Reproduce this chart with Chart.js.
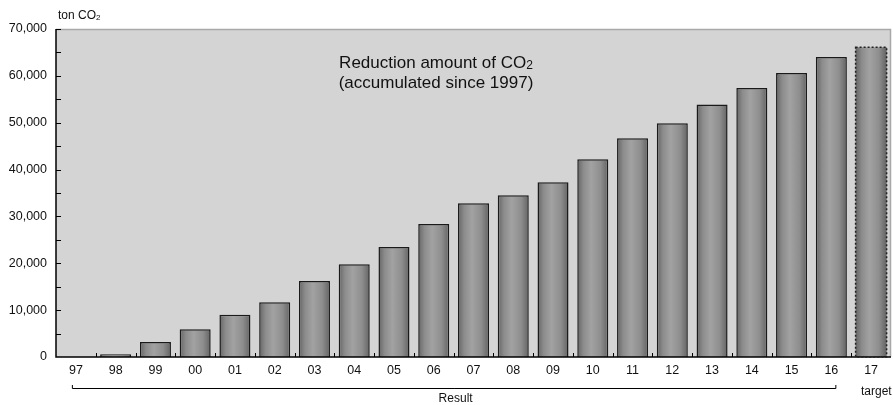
<!DOCTYPE html>
<html>
<head>
<meta charset="utf-8">
<script src="https://cdn.jsdelivr.net/npm/chart.js@4"></script>
<style>
    html, body { margin: 0; padding: 0; background: #ffffff; }
    #ChartWrapper { width: 893px; height: 405px; position: relative; }
</style>
</head>
<body>
<div id="ChartWrapper"><canvas id="Chart"></canvas></div>
<script>
// годы (подписи оси X)
var years = ['97', '98', '99', '00', '01', '02', '03', '04', '05', '06', '07', '08', '09', '10', '11', '12', '13', '14', '15', '16', '17'];
// накопленное сокращение, т CO2
var reduction = [0, 600, 3200, 5900, 9000, 11700, 16200, 19800, 23500, 28400, 32800, 34500, 37300, 42200, 46700, 49900, 53900, 57400, 60600, 64000, 66100];
var yTicks = [0, 10000, 20000, 30000, 40000, 50000, 60000, 70000];
var targetIndex = 20;

var FONT = '"Liberation Sans", Arial, sans-serif';
var BAR_PCT = 0.78;

/**
 * градиент для столбика по его положению на шкале*/
function barGradient(context) {
    var chart = context.chart;
    if (!chart.chartArea) return '#999';
    var x = chart.scales.x.getPixelForValue(context.dataIndex);
    var w = chart.scales.x.width / years.length * BAR_PCT;
    var g = chart.ctx.createLinearGradient(x - w / 2, 0, x + w / 2, 0);
    g.addColorStop(0, '#656565');
    g.addColorStop(0.2, '#8c8c8c');
    g.addColorStop(0.45, '#a2a2a2');
    g.addColorStop(0.75, '#8e8e8e');
    g.addColorStop(1, '#636363');
    return g;
}

// фон, рамка, засечки и подписи
var decorPlugin = {
    id: 'decor',
    beforeDraw: function (chart) {
        var ctx = chart.ctx, a = chart.chartArea;
        ctx.save();
        ctx.fillStyle = '#d4d4d4';
        ctx.fillRect(a.left, a.top, a.right - a.left, a.bottom - a.top);
        ctx.restore();
    },
    afterDatasetsDraw: function (chart) {
        var ctx = chart.ctx, a = chart.chartArea;
        var xs = chart.scales.x, ys = chart.scales.y;
        ctx.save();
        // рамка сверху и справа
        ctx.strokeStyle = '#a8a8a8';
        ctx.lineWidth = 1.5;
        ctx.beginPath();
        ctx.moveTo(a.left, a.top + 0.5);
        ctx.lineTo(a.right - 0.5, a.top + 0.5);
        ctx.lineTo(a.right - 0.5, a.bottom);
        ctx.stroke();
        // оси
        ctx.strokeStyle = '#000';
        ctx.lineWidth = 1.5;
        ctx.beginPath();
        ctx.moveTo(a.left, a.top);
        ctx.lineTo(a.left, a.bottom);
        ctx.lineTo(a.right, a.bottom);
        ctx.stroke();
        // засечки оси Y (внутрь), шаг 5000
        ctx.lineWidth = 1;
        ctx.beginPath();
        for (var v = 5000; v <= 70000; v += 5000) {
            var py = Math.round(ys.getPixelForValue(v)) + 0.5;
            ctx.moveTo(a.left, py);
            ctx.lineTo(a.left + 5, py);
        }
        ctx.stroke();
        // засечки оси X между категориями
        var step = xs.width / years.length;
        ctx.beginPath();
        for (var i = 1; i < years.length; i++) {
            var px = Math.round(a.left + step * i) + 0.5;
            ctx.moveTo(px, a.bottom);
            ctx.lineTo(px, a.bottom - 4);
        }
        ctx.stroke();

        // пунктир для целевого значения
        var bar = chart.getDatasetMeta(0).data[targetIndex];
        if (bar) {
            ctx.setLineDash([2, 2]);
            ctx.strokeStyle = '#222';
            ctx.lineWidth = 1.5;
            ctx.strokeRect(bar.x - bar.width / 2, bar.y, bar.width, bar.base - bar.y);
            ctx.setLineDash([]);
        }

        // скобка "Result"
        var x0 = xs.getPixelForValue(0) - 4, x1 = xs.getPixelForValue(19) + 4;
        ctx.strokeStyle = '#000';
        ctx.lineWidth = 1;
        ctx.beginPath();
        ctx.moveTo(x0 + 0.5, 385);
        ctx.lineTo(x0 + 0.5, 388.5);
        ctx.lineTo(x1 + 0.5, 388.5);
        ctx.lineTo(x1 + 0.5, 385);
        ctx.stroke();

        ctx.fillStyle = '#111';
        ctx.textBaseline = 'middle';
        ctx.font = '12px ' + FONT;
        ctx.textAlign = 'center';
        ctx.fillText('Result', (x0 + x1) / 2 + 2, 399);
        ctx.textAlign = 'left';
        ctx.fillText('target', 861, 392);

        // единицы измерения
        drawCO2(ctx, 'ton CO', 58, 16, 12, 'left');

        // подпись внутри графика
        ctx.font = '17px ' + FONT;
        ctx.textAlign = 'left';
        var cx = 436;
        var t1 = 'Reduction amount of CO';
        var w1 = ctx.measureText(t1).width;
        ctx.font = '12px ' + FONT;
        var w2 = ctx.measureText('2').width;
        drawCO2(ctx, t1, cx - (w1 + w2) / 2, 63, 17, 'left');
        ctx.font = '17px ' + FONT;
        ctx.textAlign = 'center';
        ctx.fillText('(accumulated since 1997)', cx, 83);
        ctx.restore();
    }
};

/**
 * текст с подстрочной двойкой в CO2*/
function drawCO2(ctx, text, x, y, size, align) {
    ctx.font = size + 'px ' + FONT;
    ctx.textAlign = align;
    ctx.textBaseline = 'middle';
    ctx.fillText(text, x, y);
    var w = ctx.measureText(text).width;
    ctx.font = Math.round(size * 0.68) + 'px ' + FONT;
    ctx.fillText('2', x + w, y + size * 0.15);
}

var data = {
    labels: years,
    datasets: [{
        data: reduction,
        backgroundColor: barGradient,
        borderColor: function (c) { return c.dataIndex === targetIndex ? 'rgba(0,0,0,0)' : '#1a1a1a'; },
        borderWidth: function (c) { return c.dataIndex === targetIndex ? 0 : 1.5; },
        borderSkipped: 'bottom',
        barPercentage: BAR_PCT,
        categoryPercentage: 1
    }]
};

var config = {
    type: 'bar',
    data: data,
    options: {
        responsive: true,
        maintainAspectRatio: false,
        animation: false,
        layout: { padding: { top: 29, right: 2, left: 0, bottom: 0 } },
        plugins: {
            legend: { display: false },
            tooltip: { enabled: false }
        },
        scales: {
            x: {
                grid: { display: false, drawTicks: false },
                border: { display: false },
                ticks: { color: '#111', font: { family: FONT, size: 12.5 }, padding: 6, maxRotation: 0, autoSkip: false },
                afterFit: function (s) { s.height = 48; }
            },
            y: {
                min: 0,
                max: 70000,
                afterBuildTicks: function (s) { s.ticks = yTicks.map(function (v) { return { value: v }; }); },
                grid: { display: false, drawTicks: false },
                border: { display: false },
                ticks: {
                    color: '#111',
                    font: { family: FONT, size: 12.5 },
                    padding: 9,
                    callback: function (v) { return v.toLocaleString('en-US'); }
                },
                afterFit: function (s) { s.width = 56; }
            }
        }
    },
    plugins: [decorPlugin]
};

var myChart = new Chart(document.getElementById('Chart'), config);
</script>
</body>
</html>
